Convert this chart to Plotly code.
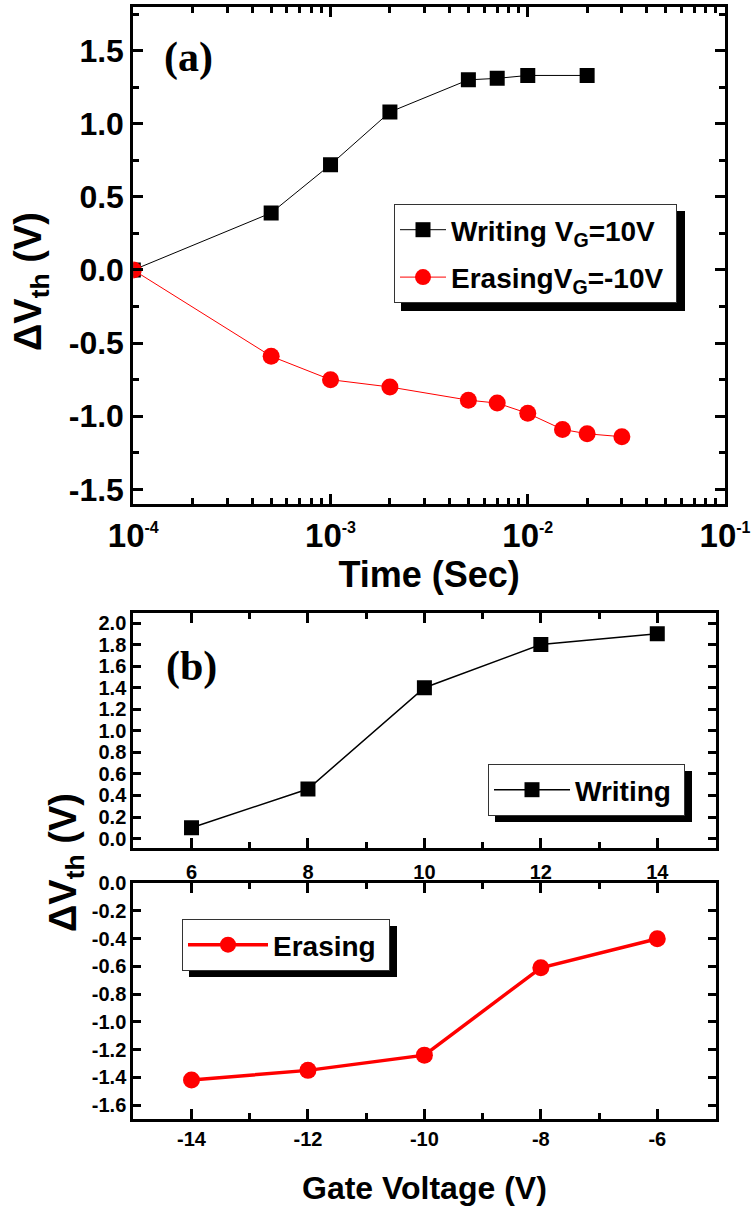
import plotly.graph_objects as go

W, H = 751, 1210

# ---- (a) threshold shift vs. pulse time ----
time_writing = [1e-4, 5e-4, 1e-3, 2e-3, 5e-3, 7e-3, 1e-2, 2e-2]
dvth_writing = [0.0, 0.39, 0.72, 1.08, 1.30, 1.31, 1.33, 1.33]
time_erasing = [1e-4, 5e-4, 1e-3, 2e-3, 5e-3, 7e-3, 1e-2, 1.5e-2, 2e-2, 3e-2]
dvth_erasing = [0.0, -0.59, -0.75, -0.80, -0.89, -0.91, -0.98, -1.09, -1.12, -1.14]
time_ticks = [1e-4, 1e-3, 1e-2, 1e-1]
time_exponents = ["-4", "-3", "-2", "-1"]

# ---- (b) threshold shift vs. gate voltage ----
gate_writing = [6, 8, 10, 12, 14]
dvth_gate_writing = [0.10, 0.46, 1.40, 1.80, 1.90]
gate_erasing = [-14, -12, -10, -8, -6]
dvth_gate_erasing = [-1.42, -1.35, -1.24, -0.61, -0.40]

SANS = "Liberation Sans, Arial, sans-serif"
SERIF = "Liberation Serif, Times New Roman, serif"
NBSP = "\u00a0"


def px_x(p):
    return p / W


def px_y(p):
    return 1 - p / H


# decade labels with a small raised exponent
time_ticktext = [
    '10<sup><span style="font-size:16px">%s</span></sup>' % e for e in time_exponents
]

fig = go.Figure()

fig.add_trace(go.Scatter(
    x=time_writing, y=dvth_writing, mode="lines+markers",
    name="Writing V<sub>G</sub>=10V" + NBSP,
    line=dict(color="black", width=1),
    marker=dict(symbol="square", size=15, color="black"),
    xaxis="x", yaxis="y", legend="legend", legendgroup="w",
))
fig.add_trace(go.Scatter(
    x=time_erasing, y=dvth_erasing, mode="lines+markers",
    name="ErasingV<sub>G</sub>=-10V" + NBSP,
    line=dict(color="red", width=1),
    marker=dict(symbol="circle", size=17, color="red"),
    xaxis="x", yaxis="y", legend="legend", legendgroup="e",
))
fig.add_trace(go.Scatter(
    x=gate_writing, y=dvth_gate_writing, mode="lines+markers",
    name="Writing" + NBSP,
    line=dict(color="black", width=1.5),
    marker=dict(symbol="square", size=15, color="black"),
    xaxis="x2", yaxis="y2", legend="legend2",
))
fig.add_trace(go.Scatter(
    x=gate_erasing, y=dvth_gate_erasing, mode="lines+markers",
    name="Erasing" + NBSP,
    line=dict(color="red", width=3.5),
    marker=dict(symbol="circle", size=17, color="red"),
    xaxis="x3", yaxis="y3", legend="legend3",
))


def axis_style(font_size, ticklen=10, **kw):
    d = dict(
        showline=True, linecolor="black", linewidth=3, mirror="ticks",
        ticks="inside", ticklen=ticklen, tickwidth=3, tickcolor="black",
        showgrid=False, zeroline=False, automargin=False,
        ticklabeloverflow="allow",
        tickfont=dict(family=SANS, size=font_size, color="black", weight="bold"),
    )
    d.update(kw)
    return d


minor_style = dict(ticks="inside", ticklen=6, tickwidth=2.5, tickcolor="black", showgrid=False)

legend_font = dict(family=SANS, size=28, color="black", weight="bold")

layout = dict(
    width=W, height=H,
    margin=dict(l=0, r=0, t=0, b=0, autoexpand=False),
    paper_bgcolor="white", plot_bgcolor="white",
    showlegend=True,
    xaxis=axis_style(
        33, type="log", range=[-4, -1], domain=[px_x(133.3), px_x(725)],
        tickmode="array", tickvals=time_ticks, ticktext=time_ticktext,
        minor=dict(dtick="D1", **minor_style), anchor="y",
        title=dict(text="Time (Sec)", standoff=8,
                   font=dict(family=SANS, size=36, color="black", weight="bold")),
    ),
    yaxis=axis_style(
        32, range=[-1.6, 1.8], domain=[px_y(504), px_y(6.7)],
        tickmode="array", tickvals=[-1.5, -1.0, -0.5, 0.0, 0.5, 1.0, 1.5],
        ticktext=["-1.5", "-1.0", "-0.5", "0.0", "0.5", "1.0", "1.5"],
        minor=dict(dtick=0.25, tick0=0, **minor_style), anchor="x",
    ),
    xaxis2=axis_style(
        20, range=[5, 15], domain=[px_x(133.3), px_x(715.5)],
        tickmode="array", tickvals=[6, 8, 10, 12, 14], ticklabelstandoff=4,
        minor=dict(dtick=1, tick0=0, **minor_style), anchor="y2",
    ),
    yaxis2=axis_style(
        20, ticklen=8, range=[-0.09, 2.09], domain=[px_y(848.3), px_y(613.3)],
        tickmode="array", tickvals=[0, 0.2, 0.4, 0.6, 0.8, 1.0, 1.2, 1.4, 1.6, 1.8, 2.0],
        ticktext=["0.0", "0.2", "0.4", "0.6", "0.8", "1.0", "1.2", "1.4", "1.6", "1.8", "2.0"],
        anchor="x2",
    ),
    xaxis3=axis_style(
        20, range=[-15, -5], domain=[px_x(133.3), px_x(715.5)],
        tickmode="array", tickvals=[-14, -12, -10, -8, -6],
        ticktext=["-14", "-12", "-10", "-8", "-6"],
        minor=dict(dtick=1, tick0=0, **minor_style), anchor="y3",
        title=dict(text="Gate Voltage (V)", standoff=28,
                   font=dict(family=SANS, size=32, color="black", weight="bold")),
    ),
    yaxis3=axis_style(
        20, ticklen=8, range=[-1.703, 0.004], domain=[px_y(1119.3), px_y(882.7)],
        tickmode="array",
        tickvals=[-1.6, -1.4, -1.2, -1.0, -0.8, -0.6, -0.4, -0.2, 0.0],
        ticktext=["-1.6", "-1.4", "-1.2", "-1.0", "-0.8", "-0.6", "-0.4", "-0.2", "0.0"],
        anchor="x3",
    ),
    legend=dict(
        x=px_x(394), y=px_y(204), xanchor="left", yanchor="top",
        bgcolor="white", bordercolor="#333333", borderwidth=1,
        font=legend_font, itemwidth=46, tracegroupgap=8,
    ),
    legend2=dict(
        x=px_x(488), y=px_y(764), xanchor="left", yanchor="top",
        bgcolor="white", bordercolor="#333333", borderwidth=1,
        font=legend_font, itemwidth=76,
    ),
    legend3=dict(
        x=px_x(182), y=px_y(919), xanchor="left", yanchor="top",
        bgcolor="white", bordercolor="#333333", borderwidth=1,
        font=legend_font, itemwidth=80,
    ),
)

# drop shadows offset down-right from each legend box
shadows = [(401, 211, 685, 311), (495, 771, 692, 822), (189, 926, 397, 977)]
layout["shapes"] = [
    dict(type="rect", xref="paper", yref="paper",
         x0=px_x(x0), x1=px_x(x1), y0=px_y(y1), y1=px_y(y0),
         fillcolor="black", line=dict(width=0), layer="above")
    for (x0, y0, x1, y1) in shadows
]

title_font = dict(family=SANS, size=38, color="black", weight="bold")
layout["annotations"] = [
    dict(text="(a)", x=px_x(188), y=px_y(57.5), xref="paper", yref="paper",
         xanchor="center", yanchor="middle", showarrow=False,
         font=dict(family=SERIF, size=42, color="black", weight="bold")),
    dict(text="(b)", x=px_x(191), y=px_y(666), xref="paper", yref="paper",
         xanchor="center", yanchor="middle", showarrow=False,
         font=dict(family=SERIF, size=42, color="black", weight="bold")),
    dict(text="ΔV<sub>th</sub> (V)", textangle=-90, x=px_x(31), y=px_y(282),
         xref="paper", yref="paper", xanchor="center", yanchor="middle",
         showarrow=False, font=title_font),
    dict(text="ΔV<sub>th</sub> (V)", textangle=-90, x=px_x(66), y=px_y(863),
         xref="paper", yref="paper", xanchor="center", yanchor="middle",
         showarrow=False, font=title_font),
]

fig.update_layout(**layout)
fig.write_html("out.html")
